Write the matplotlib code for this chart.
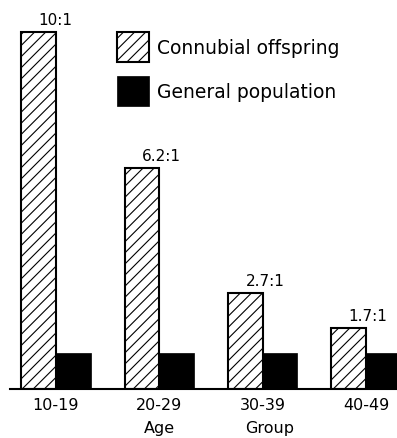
import numpy as np
import matplotlib.pyplot as plt

# === Data ===
age_groups = ['10-19', '20-29', '30-39', '40-49']
connubial = [10.0, 6.2, 2.7, 1.7]
general = [1.0, 1.0, 1.0, 1.0]
ratio_labels = ['10:1', '6.2:1', '2.7:1', '1.7:1']

plt.rcParams['hatch.linewidth'] = 0.8

fig = plt.figure(figsize=(3.97, 4.39), dpi=100)
ax = fig.add_axes([10 / 397, 1 - 390 / 439, 387 / 397, 370 / 439])

x = np.arange(len(age_groups))
w = 0.334

ax.bar(x - w / 2, connubial, w, facecolor='white', edgecolor='black',
       hatch='///', linewidth=1.5, label='Connubial offspring')
ax.bar(x + w / 2, general, w, color='black', edgecolor='black',
       linewidth=0.5, label='General population')

for xi, h, lab in zip(x, connubial, ratio_labels):
    ax.text(xi - w / 2, h + 0.14, lab, ha='left', va='bottom', fontsize=11)

ax.set_xlim(-0.445, 3.30)
ax.set_ylim(0, 370 / 35.7)

for s in ['top', 'right', 'left']:
    ax.spines[s].set_visible(False)
ax.spines['bottom'].set_linewidth(1.5)
ax.set_yticks([])
ax.set_xticks(x)
ax.set_xticklabels(age_groups, fontsize=11.5)
ax.tick_params(axis='x', length=0, pad=6)

# x label split under the middle groups
trans = ax.get_xaxis_transform()
ax.text(1, -0.085, 'Age', transform=trans, ha='center', va='top', fontsize=11.5)
ax.text(2.07, -0.085, 'Group', transform=trans, ha='center', va='top', fontsize=11.5)

ax.legend(loc='upper left', bbox_to_anchor=(117 / 397, 1 - 33 / 439),
          bbox_transform=fig.transFigure, frameon=False, fontsize=13.5,
          borderpad=0, borderaxespad=0, handlelength=1.7, handleheight=2.08,
          handletextpad=0.45, labelspacing=0.75)

fig.savefig('out.png', dpi=100)
